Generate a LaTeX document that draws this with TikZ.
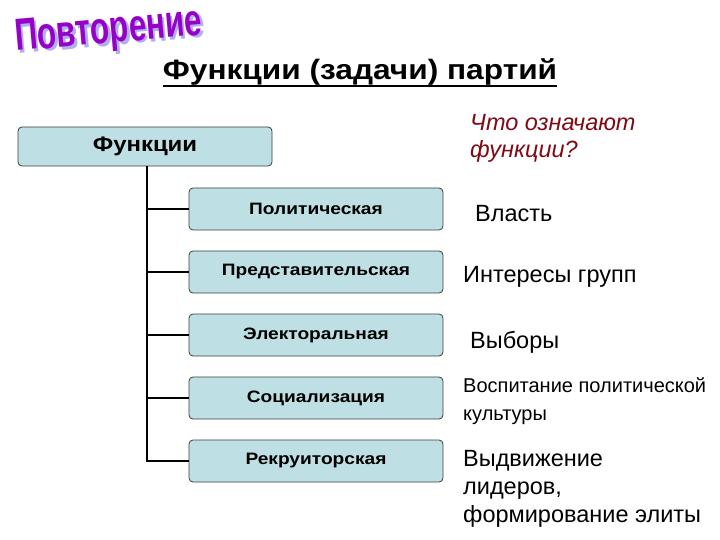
\documentclass[tikz,border=0pt]{standalone}
\usepackage{fontspec}
\setmainfont{Liberation Sans}
\definecolor{boxfill}{RGB}{190,224,228}
\definecolor{boxline}{RGB}{60,60,60}
\definecolor{qred}{RGB}{128,10,20}
\definecolor{wapurple}{RGB}{150,0,200}
\definecolor{washadow}{RGB}{175,175,235}
\newcommand{\hstretch}[2]{\scalebox{#1}[1]{#2}}
\newcommand{\waword}[1]{\rlap{\kern3pt\raisebox{-3pt}{\color{washadow}#1}}{\color{wapurple}#1}}
\tikzset{
  fbox/.style={draw=boxline, line width=0.8pt, fill=boxfill, rounded corners=4pt, inner sep=0pt},
  rootbox/.style={fbox, minimum width=254pt, minimum height=39pt, font=\fontsize{21}{24}\selectfont\bfseries},
  childbox/.style={fbox, minimum width=254pt, minimum height=42pt, font=\fontsize{16.5}{19}\selectfont\bfseries},
  conn/.style={draw=black, line width=1.3pt},
  rtext/.style={anchor=base west, inner sep=0pt, font=\fontsize{23.5}{27}\selectfont},
  stext/.style={anchor=base west, inner sep=0pt, font=\fontsize{20}{24}\selectfont},
  qtext/.style={anchor=base west, inner sep=0pt, text=qred, font=\fontsize{23.5}{27}\selectfont\itshape},
  watext/.style={anchor=base west, inner sep=0pt, rotate=5, font=\fontsize{45}{48}\selectfont\bfseries, xscale=0.7}
}
\begin{document}
\begin{tikzpicture}[x=1pt,y=-1pt]
\useasboundingbox (0,0) rectangle (720,540);
% word art
\node[watext] (wa) at (16,51) {\waword{Повторение}};
% title
\node[anchor=base, inner sep=0pt, font=\fontsize{28}{32}\selectfont\bfseries] (title) at (360,80) {\hstretch{1.13}{Функции (задачи) партий}};
\draw[line width=1.6pt] (title.base west) ++(0,6) coordinate (ul1) -- (title.base east |- ul1);
% boxes
\node[rootbox] (root) at (145,146.5) {\hstretch{1.14}{Функции}};
\node[childbox] (c1) at (316,209) {\hstretch{1.16}{Политическая}};
\node[childbox] (c2) at (316,272) {\hstretch{1.16}{Представительская}};
\node[childbox] (c3) at (316,335) {\hstretch{1.16}{Электоральная}};
\node[childbox] (c4) at (316,398) {\hstretch{1.16}{Социализация}};
\node[childbox] (c5) at (316,461) {\hstretch{1.16}{Рекруиторская}};
\coordinate (trunk) at (147,0);
\draw[conn] (root.south -| trunk) -- (trunk |- c5.west) -- (c5.west);
\foreach \c in {c1,c2,c3,c4} \draw[conn] (trunk |- \c.west) -- (\c.west);
% right texts
\node[qtext] (q1) at (470,131) {Что означают};
\node[qtext] (q2) at (470,158) {функции?};
\node[rtext] (t1) at (475,222) {Власть};
\node[rtext] (t2) at (463,282) {Интересы групп};
\node[rtext] (t3) at (470,348) {Выборы};
\node[stext] (t4a) at (463,392) {Воспитание политической};
\node[stext] (t4b) at (463,420) {культуры};
\node[rtext] (t5a) at (463,466) {Выдвижение};
\node[rtext] (t5b) at (463,494) {лидеров,};
\node[rtext] (t5c) at (463,522) {формирование элиты};
\end{tikzpicture}
\end{document}
